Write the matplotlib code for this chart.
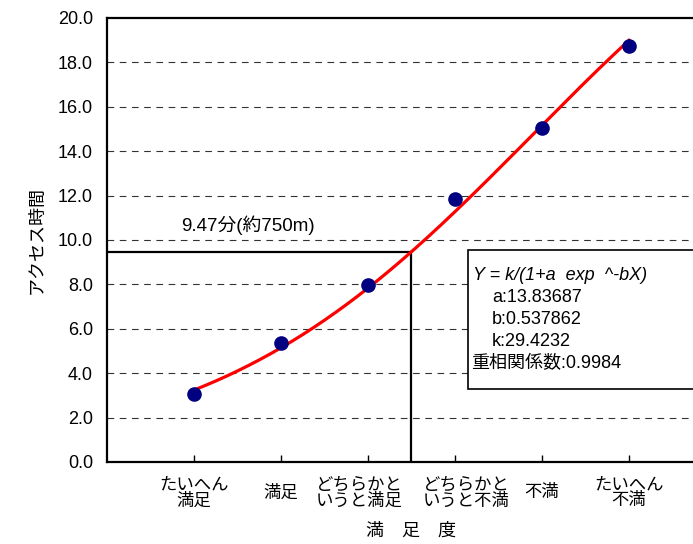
import numpy as np
import matplotlib.pyplot as plt
from matplotlib.patches import Rectangle
from matplotlib.transforms import ScaledTranslation

plt.rcParams['font.family'] = ['Liberation Sans', 'Noto Sans CJK JP']

# 満足度カテゴリと平均アクセス時間
categories = ['たいへん\n満足', '満足', 'どちらかと\nいうと満足',
              'どちらかと\nいうと不満', '不満', 'たいへん\n不満']
access_time = [3.07, 5.36, 7.98, 11.86, 15.06, 18.72]

# ロジスティック曲線のパラメータ
a = 13.83687
b = 0.537862
k = 29.4232
r = 0.9984
threshold = 9.47

W, H = 693, 544
fig = plt.figure(figsize=(W / 100, H / 100), dpi=100)
ax = fig.add_axes([107 / W, 82 / H, 609 / W, 444 / H])

x = np.arange(1, len(categories) + 1)
ax.set_xlim(0, 7)
ax.set_ylim(0, 20)

for y in np.arange(2, 20, 2):
    ax.axhline(y, color='#333333', lw=0.8, ls=(0, (6, 5)), zorder=1)

xs = np.linspace(1, 6, 200)
ax.plot(xs, k / (1 + a * np.exp(-b * xs)), color='#ff0000', lw=2.3, zorder=3)
ax.plot(x, access_time, 'o', color='#000080', ms=9.5, zorder=4)

# 9.47分に対応するX位置
x_cross = -np.log((k / threshold - 1) / a) / b
ax.plot([0, x_cross], [threshold, threshold], color='black', lw=1.6, zorder=2)
ax.plot([x_cross, x_cross], [0, threshold], color='black', lw=1.6, zorder=2)
ax.text(1.62, threshold + 1.2, f'{threshold}分(約750m)', ha='center', va='center', fontsize=13.5)

ax.set_yticks(np.arange(0, 21, 2))
ax.set_yticklabels([f'{v:.1f}' for v in np.arange(0, 21, 2)], fontsize=13)
ax.set_xticks(x)
ax.set_xticklabels(categories, fontsize=12.5, linespacing=1.0)
ax.tick_params(axis='x', direction='in', length=5, pad=11, width=1)
ax.tick_params(axis='y', direction='in', length=0, pad=10)

# 中央2つは左右に、1行のラベルは下に少しずらす
xlabels = ax.get_xticklabels()
for lbl, dx, dy in [(xlabels[1], 0, -5), (xlabels[2], -6, 0),
                    (xlabels[3], 8, 0), (xlabels[4], 0, -5)]:
    lbl.set_transform(lbl.get_transform() + ScaledTranslation(dx / 72, dy / 72, fig.dpi_scale_trans))

for s in ['left', 'bottom', 'top']:
    ax.spines[s].set_linewidth(1.6)
ax.spines['right'].set_visible(False)

ax.set_ylabel('アクセス時間', fontsize=13, labelpad=9)
ax.set_xlabel('満　足　度', fontsize=13, labelpad=10)

# 回帰式の枠
fig.patches.append(Rectangle((468 / W, (H - 389) / H), 0.5, 139 / H,
                             transform=fig.transFigure, facecolor='white',
                             edgecolor='black', lw=1.2, zorder=5))
fig.text(473 / W, 1 - 275 / H, 'Y = k/(1+a  exp  ^-bX)', style='italic',
         fontsize=13, va='center', zorder=6)
fig.text(492 / W, 1 - 298 / H, f'a:{a}', fontsize=13, va='center', zorder=6)
fig.text(492 / W, 1 - 320 / H, f'b:{b}', fontsize=13, va='center', zorder=6)
fig.text(492 / W, 1 - 342 / H, f'k:{k}', fontsize=13, va='center', zorder=6)
fig.text(471 / W, 1 - 364 / H, f'重相関係数:{r}', fontsize=13, va='center', zorder=6)

fig.savefig('out.png', dpi=100)
